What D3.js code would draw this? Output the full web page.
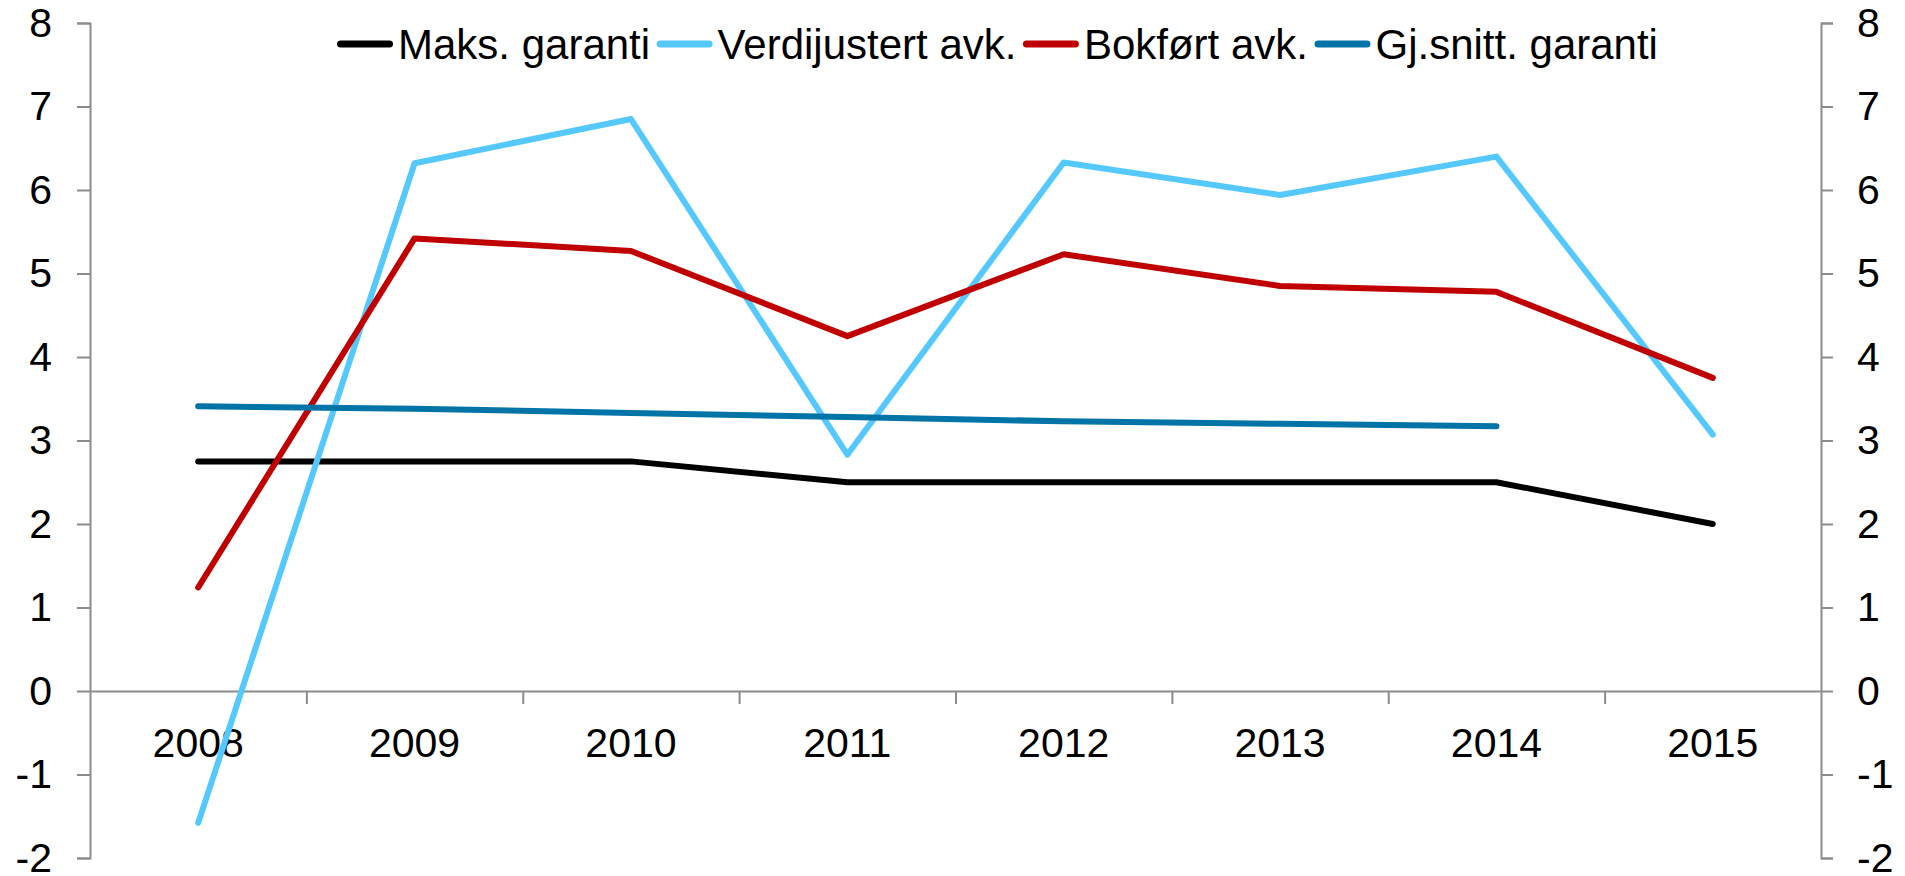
<!DOCTYPE html>
<html>
<head>
<meta charset="utf-8">
<script src="https://cdn.jsdelivr.net/npm/d3@7"></script>
<style>
  html, body { margin: 0; padding: 0; background: #fff; }
  svg { display: block; font-family: "Liberation Sans", Arial, sans-serif; }
</style>
</head>
<body>
<div id="chart"></div>
<script>
// Data (percent)
const years = ['2008', '2009', '2010', '2011', '2012', '2013', '2014', '2015'];
const maksGaranti = [2.75, 2.75, 2.75, 2.5, 2.5, 2.5, 2.5, 2.0];
const verdijustert = [-1.58, 6.32, 6.85, 2.83, 6.33, 5.94, 6.40, 3.07];
const bokfort = [1.24, 5.42, 5.27, 4.25, 5.23, 4.85, 4.78, 3.75];
const gjSnittGaranti = [3.41, 3.38, 3.33, 3.28, 3.23, 3.20, 3.17, null];
const yTicks = [-2, -1, 0, 1, 2, 3, 4, 5, 6, 7, 8];

const series = [
    { name: 'Maks. garanti', values: maksGaranti, color: '#000000' },
    { name: 'Verdijustert avk.', values: verdijustert, color: '#55c8fe' },
    { name: 'Bokført avk.', values: bokfort, color: '#c00000' },
    { name: 'Gj.snitt. garanti', values: gjSnittGaranti, color: '#0073a7' }
];

const width = 1905, height = 876;
const axisColor = '#8c8c8c';
const fontSize = 41;

const svg = d3.select('#chart').append('svg')
    .attr('width', width)
    .attr('height', height);

const x = d3.scaleBand().domain(years).range([90, 1821]);
const xEdge = d3.scaleLinear().domain([0, years.length]).range([90, 1821]);
const y = d3.scaleLinear().domain([-2, 8]).range([858, 23]);

// plain hyphen for negatives, like the original
const fmt = d => String(d);

const styleAxis = g => {
    g.select('.domain').attr('stroke', axisColor).attr('stroke-width', 2);
    g.selectAll('.tick line').attr('stroke', axisColor).attr('stroke-width', 2);
    g.selectAll('text').attr('fill', '#000').style('font-size', fontSize + 'px');
};

// Y axes (left and right, same scale)
svg.append('g')
    .attr('transform', 'translate(90,0)')
    .call(d3.axisLeft(y).tickValues(yTicks).tickSize(13).tickSizeOuter(13).tickPadding(25).tickFormat(fmt))
    .call(styleAxis);

svg.append('g')
    .attr('transform', 'translate(1821,0)')
    .call(d3.axisRight(y).tickValues(yTicks).tickSize(12).tickSizeOuter(12).tickPadding(24).tickFormat(fmt))
    .call(styleAxis);

// Category axis at zero: ticks at category boundaries
svg.append('g')
    .attr('transform', `translate(0,${y(0)})`)
    .call(d3.axisBottom(xEdge).tickValues(d3.range(1, years.length)).tickSize(13).tickSizeOuter(0).tickFormat(''))
    .call(styleAxis);

// Category labels at band centres
svg.append('g')
    .attr('transform', `translate(0,${y(0)})`)
    .call(d3.axisBottom(x).tickSize(0).tickPadding(37))
    .call(g => g.select('.domain').remove())
    .call(styleAxis);

// Lines
const line = d3.line()
    .defined(d => d.v != null)
    .x(d => x(d.year) + x.bandwidth() / 2)
    .y(d => y(d.v));

svg.append('g')
    .selectAll('path')
    .data(series)
    .join('path')
    .attr('d', s => line(s.values.map((v, i) => ({ year: years[i], v }))))
    .attr('fill', 'none')
    .attr('stroke', s => s.color)
    .attr('stroke-width', 6)
    .attr('stroke-linejoin', 'round')
    .attr('stroke-linecap', 'round');

// Legend across the top
const legend = svg.append('g').attr('class', 'legend');
let lx = 340.5;
const ly = 44;
series.forEach(s => {
    legend.append('line')
        .attr('x1', lx).attr('x2', lx + 49)
        .attr('y1', ly).attr('y2', ly)
        .attr('stroke', s.color)
        .attr('stroke-width', 7)
        .attr('stroke-linecap', 'round');
    lx += 57.5;
    const t = legend.append('text')
        .attr('x', lx)
        .attr('y', ly + 15)
        .style('font-size', '42px')
        .attr('fill', '#000')
        .text(s.name);
    lx += t.node().getComputedTextLength() + 10;
});
</script>
</body>
</html>
